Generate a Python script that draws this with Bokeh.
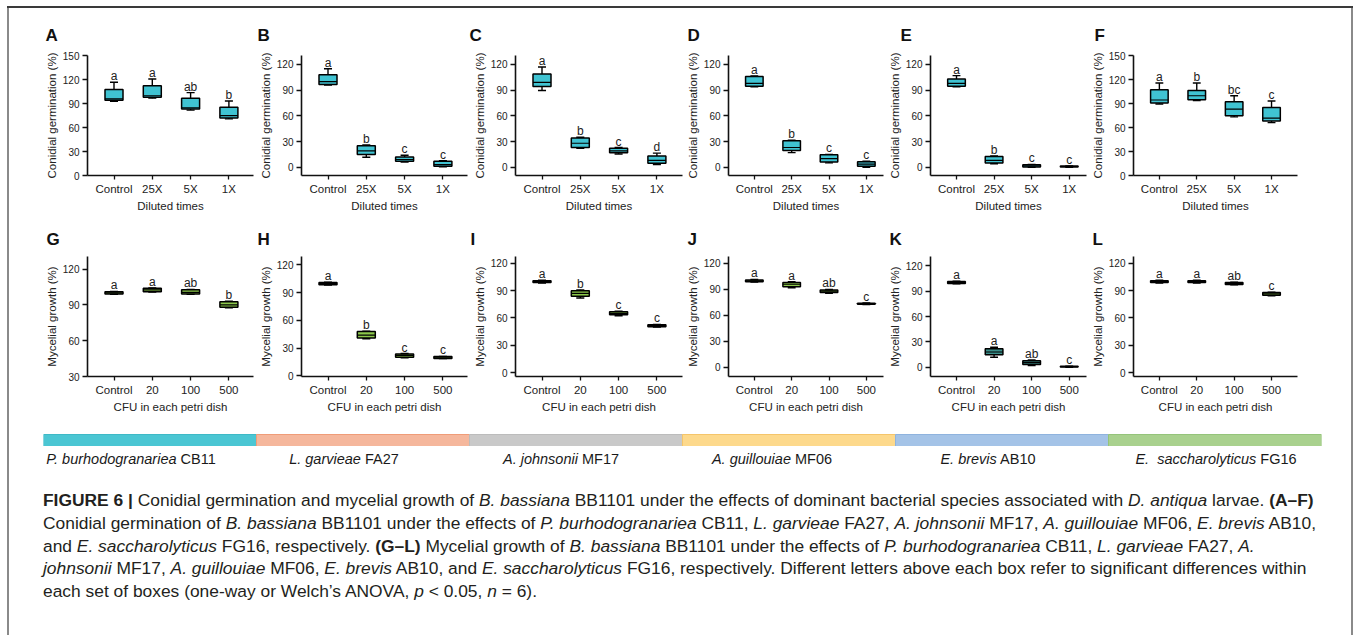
from bokeh.plotting import figure
from bokeh.models import Range1d, FixedTicker, Title, Div, Spacer
from bokeh.layouts import row, column
from bokeh.embed import file_html
from bokeh.resources import INLINE
from bokeh.core.properties import value

# ---------------- data ----------------
germ_groups = ["Control", "25X", "5X", "1X"]
myc_groups = ["Control", "20", "100", "500"]
germ_panels = ["A", "B", "C", "D", "E", "F"]
myc_panels = ["G", "H", "I", "J", "K", "L"]

# conidial germination (%) box statistics, panels A..F
germ_lo = [[93, 97, 82, 71], [96, 11.7, 6, 0.5], [89.6, 22, 15.5, 3.2],
           [94, 17, 5, 0], [94, 4, 0, 0], [89.6, 94, 73.5, 66.3]]
germ_q1 = [[94.5, 98, 83.5, 72], [96.6, 14.8, 7, 1], [94.3, 23, 17, 4.7],
           [94.5, 19.5, 6, 1], [94.5, 5, 0.3, 0.2], [91, 95, 75, 68.5]]
germ_med = [[96, 100, 85, 75], [100, 19, 9, 3], [99, 28, 19, 8],
            [98, 23, 10, 3.5], [98, 8, 1.5, 0.8], [94.7, 100, 83.3, 72]]
germ_q3 = [[108, 112.5, 97, 85.5], [108, 25, 12, 7], [109, 34, 22, 13],
           [106, 31, 14.5, 6.5], [103, 12.5, 3, 1.4], [107.7, 106.5, 92.5, 85.3]]
germ_hi = [[117, 121, 104, 93.5], [115, 26, 14, 7.5], [117, 35, 23, 16.4],
           [106.5, 31.5, 15, 7], [107, 13, 3.3, 1.5], [116, 116, 100, 93.4]]
germ_letters = [["a", "a", "ab", "b"], ["a", "b", "c", "c"], ["a", "b", "c", "d"],
                ["a", "b", "c", "c"], ["a", "b", "c", "c"], ["a", "b", "bc", "c"]]

# mycelial growth (%) box statistics, panels G..L
myc_lo = [[98.8, 100.8, 98.8, 87.5], [98.2, 40, 19.5, 18.5], [98.5, 82, 62.5, 50],
          [98.5, 92, 85.5, 72.5], [98.8, 11.8, 2, 0], [98.5, 98.5, 96.5, 84.5]]
myc_q1 = [[99, 101, 99, 88], [98.5, 40.8, 20, 18.8], [99, 84, 63.5, 50.5],
          [99, 93, 86.5, 73], [99, 14.6, 3.2, 0.2], [99, 99, 97, 85]]
myc_med = [[100, 102.5, 100.5, 90], [100, 44, 22, 20], [100, 87, 65, 51.5],
           [100, 96, 88, 73.5], [100, 18, 5.5, 0.6], [100, 100, 98, 86.5]]
myc_q3 = [[101, 104, 102.7, 92.5], [101, 47.8, 23.5, 20.8], [101, 90, 67, 52.5],
          [101, 98, 89.5, 74], [101.5, 21.7, 7.5, 1], [101, 101, 99, 88]]
myc_hi = [[101.2, 104.2, 103, 93], [101.2, 48.2, 24, 21], [101.5, 91, 67.5, 53],
          [101.5, 99, 90, 74.5], [101.7, 23.6, 8.5, 1.2], [101.5, 101.5, 99.5, 88.5]]
myc_letters = [["a", "a", "ab", "b"], ["a", "b", "c", "c"], ["a", "b", "c", "c"],
               ["a", "a", "ab", "c"], ["a", "a", "ab", "c"], ["a", "a", "ab", "c"]]

germ_yranges = [(0, 150.5), (-9.7, 130.5), (-9.7, 130.5), (-9.7, 130.5), (-9.7, 130.5), (0, 150.5)]
germ_yticks = [[0, 30, 60, 90, 120, 150]] + [[0, 30, 60, 90, 120]] * 4 + [[0, 30, 60, 90, 120, 150]]
myc_yranges = [(30, 130.5), (-0.8, 129), (-4.4, 127.7), (-10.4, 128), (-11, 131), (-4.4, 127.7)]
myc_yticks = [[30, 60, 90, 120]] + [[0, 30, 60, 90, 120]] * 5

species = ["P. burhodogranariea", "L. garvieae", "A. johnsonii", "A. guillouiae",
           "E. brevis", "E.\u00a0 saccharolyticus"]
strain_codes = ["CB11", "FA27", "MF17", "MF06", "AB10", "FG16"]
species_colors = ["#4bc6d3", "#f5b79c", "#c9c9c9", "#fdd98c", "#a4c3e7", "#a9d18e"]
species_edges = ["#3fb9c6", "#ef9c78", "#bcbcbc", "#f5c56a", "#8fb3de", "#95c47b"]

CYAN = "#40c3d2"
GREEN = "#8cc84b"
TEAL = "#3b8f8a"
myc_fills = [GREEN, GREEN, GREEN, GREEN, TEAL, GREEN]

# ---------------- layout constants (pixels) ----------------
FONT = "Liberation Sans"
UNIT = 38.3
PAD_L = 26.5
BOX_W = 0.47
CAP_W = 0.21
fig_widths = [246, 213, 215, 202, 203, 263]
left_borders = [78, 46, 47, 41, 42, 41]
frame_widths = [166, 166, 167, 159, 159, 168]
germ_letter_dx = [-42, -44, -46, -41, -30, -39]
myc_letter_dx = [-41, -44, -45, -41, -41, -41]


def make_panel(letter, groups, lo, q1, med, q3, hi, marks, fill, yr, yticks,
               ylabel, xlabel, k, top, bottom, letter_dx, letter_standoff):
    fw = frame_widths[k]
    pad_r = fw - 3 * UNIT - PAD_L
    p = figure(width=fig_widths[k], height=top + 120 + bottom,
               x_range=Range1d(-PAD_L / UNIT, 3 + pad_r / UNIT),
               y_range=Range1d(*yr),
               min_border_left=left_borders[k],
               min_border_right=fig_widths[k] - left_borders[k] - fw,
               min_border_top=top, min_border_bottom=bottom,
               toolbar_location=None, output_backend="svg", margin=0)
    p.outline_line_color = None
    p.grid.visible = False
    p.background_fill_color = "white"
    p.border_fill_color = "white"

    p.title = Title(text=letter, align="left", offset=letter_dx, standoff=letter_standoff,
                    text_font=FONT, text_font_style="bold", text_font_size="17px",
                    text_color="#111111", vertical_align="bottom")

    xs = list(range(len(groups)))
    xl = [x - BOX_W / 2 for x in xs]
    xr = [x + BOX_W / 2 for x in xs]
    cl = [x - CAP_W / 2 for x in xs]
    cr = [x + CAP_W / 2 for x in xs]

    p.segment(x0=xs, y0=q3, x1=xs, y1=hi, line_color="black", line_width=1.4)
    p.segment(x0=xs, y0=lo, x1=xs, y1=q1, line_color="black", line_width=1.4)
    p.vbar(x=xs, width=BOX_W, bottom=q1, top=q3, fill_color=fill,
           line_color="black", line_width=1.5)
    p.segment(x0=xl, y0=med, x1=xr, y1=med, line_color="black", line_width=1.2)
    p.segment(x0=cl, y0=hi, x1=cr, y1=hi, line_color="black", line_width=1.4)
    p.segment(x0=cl, y0=lo, x1=cr, y1=lo, line_color="black", line_width=1.4)

    p.text(x=xs, y=hi, text=marks, text_align="center", text_baseline="alphabetic",
           y_offset=-6, text_font=value(FONT), text_font_size="12px",
           text_color="#222222")

    p.xaxis.ticker = FixedTicker(ticks=xs)
    p.xaxis.major_label_overrides = {x: g for x, g in zip(xs, groups)}
    p.yaxis.ticker = FixedTicker(ticks=yticks)
    p.xaxis.axis_label = xlabel
    p.yaxis.axis_label = ylabel
    for ax in (p.xaxis[0], p.yaxis[0]):
        ax.axis_line_width = 1.6
        ax.axis_line_color = "#111111"
        ax.major_tick_line_width = 1.3
        ax.major_tick_line_color = "#111111"
        ax.major_tick_in = 0
        ax.minor_tick_line_color = None
        ax.major_label_text_font = FONT
        ax.major_label_text_color = "#222222"
        ax.axis_label_text_font = FONT
        ax.axis_label_text_font_style = "normal"
        ax.axis_label_text_font_size = "11.5px"
        ax.axis_label_text_color = "#222222"
    p.xaxis.major_tick_out = 4
    p.xaxis.major_label_standoff = 3
    p.xaxis.axis_label_standoff = 2
    p.xaxis.major_label_text_font_size = "11.5px"
    p.yaxis.major_tick_out = 5
    p.yaxis.major_label_standoff = 3
    p.yaxis.axis_label_standoff = 2
    p.yaxis.major_label_text_font_size = "10px"
    return p


top_figs = []
for k in range(6):
    top_figs.append(make_panel(germ_panels[k], germ_groups, germ_lo[k], germ_q1[k],
                               germ_med[k], germ_q3[k], germ_hi[k], germ_letters[k],
                               CYAN, germ_yranges[k], germ_yticks[k],
                               "Conidial germination (%)", "Diluted times", k,
                               47, 40, germ_letter_dx[k], 22))
bot_figs = []
for k in range(6):
    bot_figs.append(make_panel(myc_panels[k], myc_groups, myc_lo[k], myc_q1[k],
                               myc_med[k], myc_q3[k], myc_hi[k], myc_letters[k],
                               myc_fills[k], myc_yranges[k], myc_yticks[k],
                               "Mycelial growth (%)", "CFU in each petri dish", k,
                               41, 44, myc_letter_dx[k], 16))

CONTENT_W = 1342

# colour bar of the bacterial species
bar = figure(width=CONTENT_W, height=26, x_range=Range1d(0, len(species)),
             y_range=Range1d(0, 26 / 12), min_border_left=34, min_border_right=30,
             min_border_top=0, min_border_bottom=0, x_axis_type=None, y_axis_type=None,
             toolbar_location=None, output_backend="svg", margin=0)
bar.outline_line_color = None
bar.grid.visible = False
idx = list(range(len(species)))
bar.quad(left=idx, right=[i + 1 for i in idx], bottom=0, top=1,
         fill_color=species_colors, line_color=species_edges, line_width=1)

# species names under the bar
centers = [122, 335.5, 552, 762.5, 978.5, 1206.5]
LW = 210
items = []
pos = 0
for i, c in enumerate(centers):
    start = int(round(c - LW / 2))
    if start - pos >= 1:
        items.append(Spacer(width=start - pos, height=29, margin=0))
    items.append(Div(text=f'<div style="font-family:\'{FONT}\';font-size:14.5px;line-height:26px;'
                          f'color:#1a1a1a;text-align:center;white-space:nowrap;width:{LW}px;">'
                          f'<i>{species[i]}</i> {strain_codes[i]}</div>',
                     width=LW, height=29, margin=0))
    pos = start + LW
if CONTENT_W - pos >= 1:
    items.append(Spacer(width=CONTENT_W - pos, height=29, margin=0))
label_row = row(*items, spacing=0)

caption_lines = [
    "<b>FIGURE 6 |</b> Conidial germination and mycelial growth of <i>B. bassiana</i> BB1101 under the effects of dominant bacterial species associated with <i>D. antiqua</i> larvae. <b>(A–F)</b>",
    "Conidial germination of <i>B. bassiana</i> BB1101 under the effects of <i>P. burhodogranariea</i> CB11, <i>L. garvieae</i> FA27, <i>A. johnsonii</i> MF17, <i>A. guillouiae</i> MF06, <i>E. brevis</i> AB10,",
    "and <i>E. saccharolyticus</i> FG16, respectively. <b>(G–L)</b> Mycelial growth of <i>B. bassiana</i> BB1101 under the effects of <i>P. burhodogranariea</i> CB11, <i>L. garvieae</i> FA27, <i>A.</i>",
    "<i>johnsonii</i> MF17, <i>A. guillouiae</i> MF06, <i>E. brevis</i> AB10, and <i>E. saccharolyticus</i> FG16, respectively. Different letters above each box refer to significant differences within",
    "each set of boxes (one-way or Welch’s ANOVA, <i>p</i> &lt; 0.05, <i>n</i> = 6).",
]
caption = Div(text=f'<div style="font-family:\'{FONT}\';font-size:17.4px;line-height:22.8px;'
                   f'color:#231f20;white-space:nowrap;padding:14px 0 0 34px;">'
                   + "<br>".join(caption_lines) + "</div>",
              width=CONTENT_W, height=160, margin=0)

content = column(row(*top_figs, spacing=0), row(*bot_figs, spacing=0), bar, label_row,
                 caption, spacing=0)
H = 207 + 205 + 26 + 29 + 160
left_line = Div(text="", width=2, height=H, margin=0, styles={"background-color": "#8a8a8a"})
right_line = Div(text="", width=2, height=H, margin=0, styles={"background-color": "#8a8a8a"})
top_line = Div(text="", width=CONTENT_W + 4, height=2, margin=0, styles={"background-color": "#3a3a3a"})
framed = column(top_line, row(left_line, content, right_line, spacing=0), spacing=0)
page = column(Spacer(width=10, height=6, margin=0),
              row(Spacer(width=7, height=10, margin=0), framed, spacing=0), spacing=0)

open("out.html", "w").write(file_html(page, INLINE))
